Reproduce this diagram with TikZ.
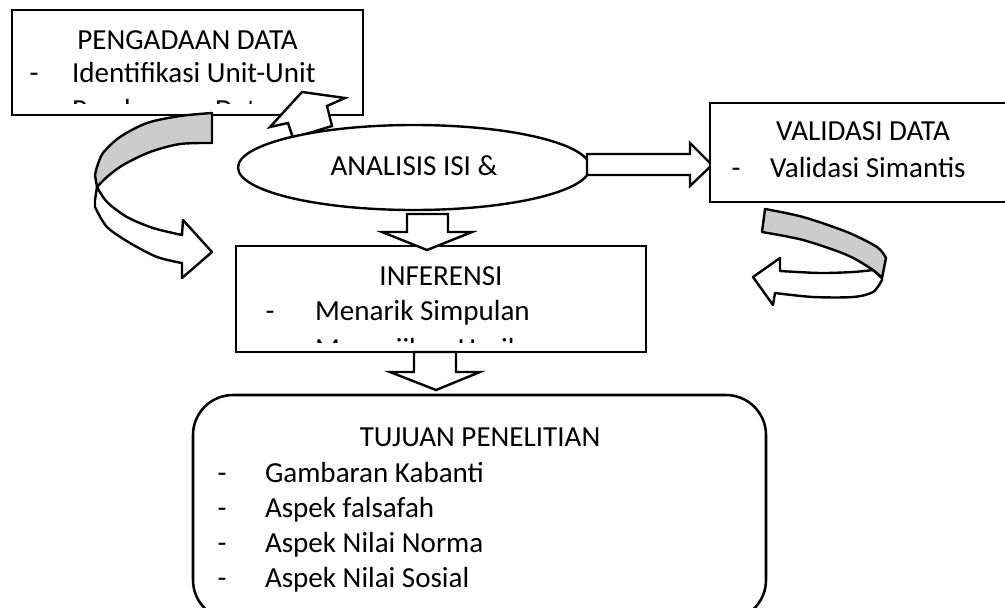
\documentclass[tikz,border=0pt]{standalone}
\usepackage{fontspec}
\setmainfont{Carlito}
\usetikzlibrary{shapes.geometric}
\begin{document}
\begin{tikzpicture}[x=0.75pt,y=-0.75pt,
  every node/.style={font=\fontsize{21.8}{26}\selectfont, inner sep=0pt, outer sep=0pt},
  box/.style={draw, line width=1.9pt, fill=white, rectangle, anchor=north west},
  blockarrow/.style={draw, line width=1.8pt, fill=white, line join=miter},
  band/.style={draw, line width=1.8pt, fill=black!20, line join=round},
  title/.style={anchor=base},
  item/.style={anchor=base west},
  dashmark/.style={anchor=base}]
\useasboundingbox (0,0) rectangle (1005,607);

% PENGADAAN DATA
\node[box, minimum width=263.25pt, minimum height=78.75pt] (pengadaan) at (12,10) {};
\node[title] (pengT) at (187.5,49) {PENGADAAN DATA};
\node[dashmark] (pengD1) at (34,82) {-};
\node[item] (pengI1) at (72,82) {Identifikasi Unit-Unit};
\begin{scope}
  \clip (12,10) rectangle (363,103);
  \node[item] (pengI2) at (72,119) {Pembacaan Data};
\end{scope}

% left curved arrow
\filldraw[blockarrow, line join=round] (97,187) -- (95,200)
  -- plot[smooth] coordinates {(95,207) (107,227) (130,243) (157,257) (182,263)}
  -- (182,278) -- (212,252) -- (183,220) -- (182,235)
  -- plot[smooth] coordinates {(182,235) (153,228) (127,217) (107,202) (97,187)} -- cycle;
\filldraw[band] (212,113) -- (212,143)
  -- plot[smooth] coordinates {(212,143) (180,144) (150,152) (123,165) (107,177) (97,187)}
  -- (95,175)
  -- plot[smooth] coordinates {(95,175) (97,167) (103,153) (120,137) (147,123) (180,116) (212,113)} -- cycle;

% up arrow to PENGADAAN
\filldraw[blockarrow] (293,138) -- (288,123) -- (270,127) -- (302,92) -- (345,98)
  -- (327,106) -- (332,126) -- cycle;

% ANALISIS ellipse
\node[ellipse, draw, line width=1.8pt, fill=white, minimum width=264pt, minimum height=63.75pt] (analisis) at (414,167.5) {};
\node[title] (analisisT) at (414,175) {ANALISIS ISI \&};

% right block arrow
\filldraw[blockarrow] (587,154) -- (690,154) -- (690,143) -- (712,165) -- (690,186)
  -- (690,175) -- (587,175) -- cycle;

% VALIDASI DATA
\node[box, minimum width=232.5pt, minimum height=74.25pt] (validasi) at (710,103) {};
\node[title] (valT) at (863,140) {VALIDASI DATA};
\node[dashmark] (valD1) at (736,177) {-};
\node[item] (valI1) at (770,177) {Validasi Simantis};

% right curved arrow
\filldraw[blockarrow, line join=round] (882,278)
  -- plot[smooth] coordinates {(882,280) (873,292) (853,297) (813,297) (775,293)}
  -- (773,305) -- (753,277) -- (780,258) -- (780,271)
  -- plot[smooth] coordinates {(780,271) (820,273) (853,272) (873,270)} -- cycle;
\filldraw[band] (765,209)
  -- plot[smooth] coordinates {(765,209) (803,217) (847,232) (877,247) (886,258)}
  -- (882,278)
  -- plot[smooth] coordinates {(882,278) (873,270) (847,255) (803,240) (762,232)} -- cycle;

% INFERENSI
\node[box, minimum width=307.5pt, minimum height=79.5pt] (inferensi) at (236,246) {};
\node[title] (infT) at (441,285) {INFERENSI};
\node[dashmark] (infD1) at (270,320) {-};
\node[item] (infI1) at (315,320) {Menarik Simpulan};
\begin{scope}
  \clip (236,246) rectangle (646,342);
  \node[item] (infI2) at (315,358) {Menyajikan Hasil};
\end{scope}

% down arrow 1
\filldraw[blockarrow] (407,214) -- (448,214) -- (448,232) -- (472,232) -- (427,250)
  -- (382,232) -- (407,232) -- cycle;

% TUJUAN PENELITIAN
\node[box, rounded corners=30pt, minimum width=429.75pt, minimum height=168.75pt] (tujuan) at (193,395) {};
\node[title] (tujT) at (480,446) {TUJUAN PENELITIAN};
\node[dashmark] (tujD1) at (222,482) {-};
\node[item] (tujI1) at (265,482) {Gambaran Kabanti};
\node[dashmark] (tujD2) at (222,517) {-};
\node[item] (tujI2) at (265,517) {Aspek falsafah};
\node[dashmark] (tujD3) at (222,552) {-};
\node[item] (tujI3) at (265,552) {Aspek Nilai Norma};
\node[dashmark] (tujD4) at (222,587) {-};
\node[item] (tujI4) at (265,587) {Aspek Nilai Sosial};

% down arrow 2
\filldraw[blockarrow] (414,352) -- (456,352) -- (456,372) -- (480,372) -- (436,390)
  -- (390,372) -- (414,372) -- cycle;
\end{tikzpicture}
\end{document}
